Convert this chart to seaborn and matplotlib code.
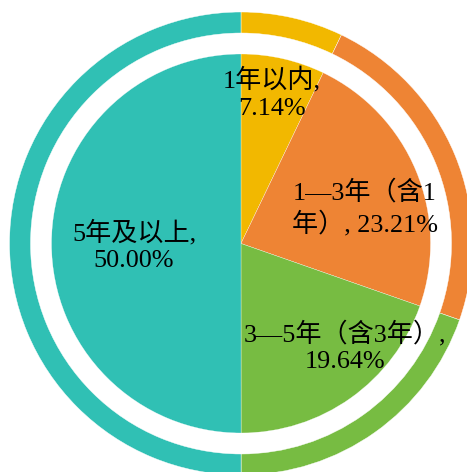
import matplotlib
matplotlib.use("Agg")
import matplotlib.pyplot as plt
import seaborn as sns

# Data
categories = ["1年以内", "1—3年（含1年）", "3—5年（含3年）", "5年及以上"]
shares = [7.14, 23.21, 19.64, 50.00]
label_texts = ["1年以内,\n7.14%", "1—3年（含1\n年）, 23.21%", "3—5年（含3年）,\n19.64%", "5年及以上,\n50.00%"]
colors = ["#F2B800", "#EE8434", "#77BC42", "#30C0B4"]

# label anchor offsets from the pie centre (pixels)
label_pos = [(31, 150.5), (124, 35.5), (104, -103.5), (-107, -2.5)]

sns.set_theme(style="white")
plt.rcParams['font.family'] = ['Liberation Serif', 'Noto Sans CJK SC']

fig = plt.figure(figsize=(4.67, 4.72), dpi=100)
ax = fig.add_axes([0, 0, 1, 1])

palette = sns.color_palette(colors)

# inner full pie
ax.pie(shares, colors=palette, radius=189.5, startangle=90, counterclock=False,
       wedgeprops=dict(edgecolor="white", linewidth=0.2))
# outer ring
ax.pie(shares, colors=palette, radius=231.5, startangle=90, counterclock=False,
       wedgeprops=dict(width=21, edgecolor="white", linewidth=0.3))

for txt, (dx, dy) in zip(label_texts, label_pos):
    ax.text(dx, dy, txt, ha="center", va="center", fontsize=18.8,
            linespacing=1.3, color="black")

ax.set_xlim(-241, 226)
ax.set_ylim(-228.5, 243.5)
ax.set_aspect("equal")
ax.axis("off")

fig.savefig("out.png", dpi=100)
